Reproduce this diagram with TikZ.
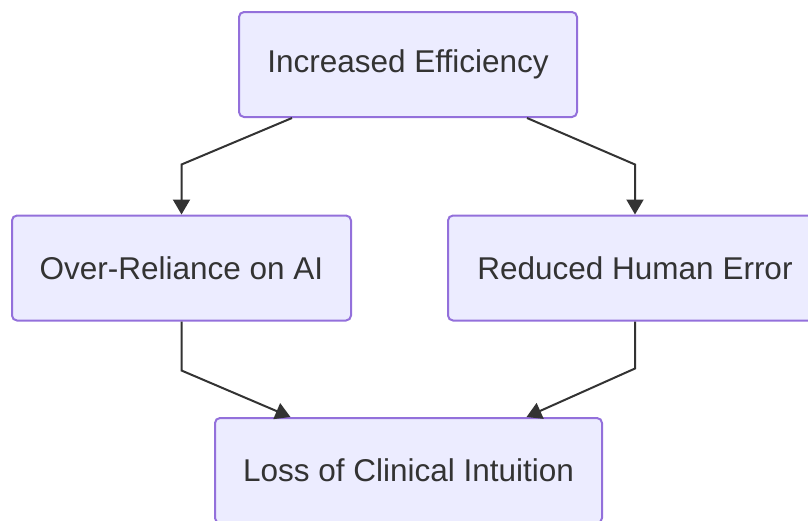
\documentclass[tikz,border=0pt]{standalone}
\usepackage{fontspec}
\setmainfont{Liberation Sans}
\usetikzlibrary{arrows.meta}
\definecolor{BOXFILL}{HTML}{ECECFF}
\definecolor{BOXLINE}{HTML}{9370DB}
\definecolor{INK}{HTML}{333333}

\begin{document}
\begin{tikzpicture}[x=1pt, y=-1pt,
		every node/.style={draw=BOXLINE, fill=BOXFILL, text=INK, line width=2pt, rounded corners=5pt, inner sep=0pt, minimum height=105pt, font=\fontsize{31.5}{38}\selectfont},
		edge/.style={draw=INK, line width=2pt, -{Triangle[width=17pt, length=15pt]}}]
				\useasboundingbox (0,0) rectangle (808,520);
				\clip (0,0) rectangle (808,520);

				\node [minimum width=338pt] (eff)  at (408,64.5)  {Increased Efficiency};
				\node [minimum width=339pt] (over) at (181.5,268) {Over-Reliance on AI};
				\node [minimum width=374pt] (err)  at (635,268)   {Reduced Human Error};
				\node [minimum width=387pt] (loss) at (408.5,470.5) {Loss of Clinical Intuition};

				\draw [edge] ([xshift=-116pt]eff.south) -- ([yshift=50pt]over.north) -- (over.north);
				\draw [edge] ([xshift=119pt]eff.south) -- ([yshift=50pt]err.north) -- (err.north);
				\draw [edge] (over.south) -- ([yshift=-49pt]over.south) -- ([xshift=-118pt]loss.north);
				\draw [edge] (err.south) -- ([yshift=-47pt]err.south) -- ([xshift=118pt]loss.north);
			\end{tikzpicture}
\end{document}
